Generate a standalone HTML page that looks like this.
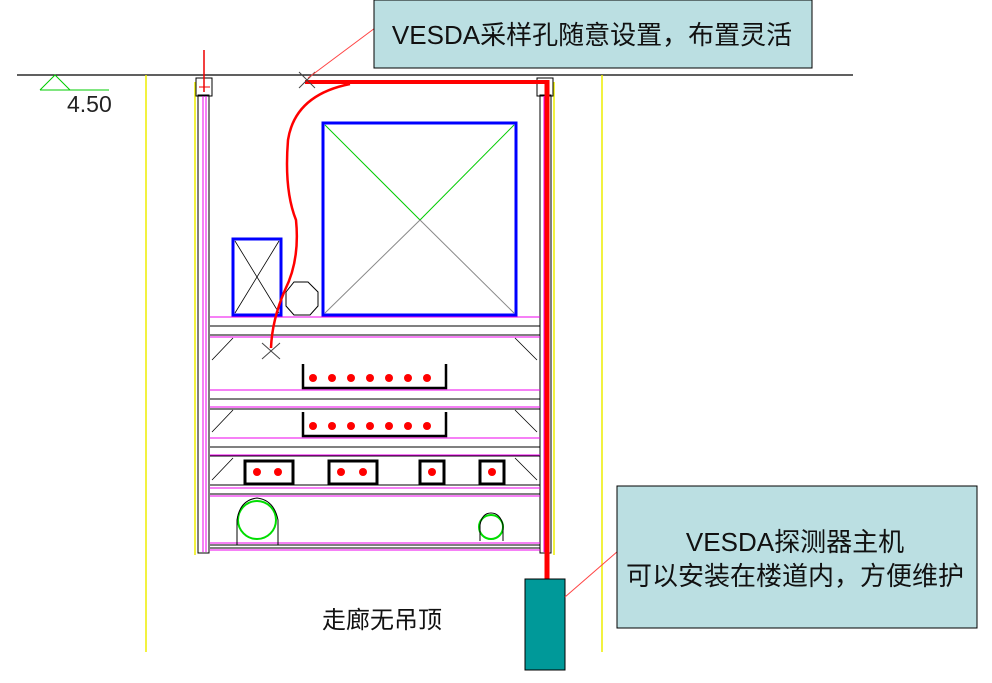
<!DOCTYPE html>
<html><head><meta charset="utf-8"><style>
html,body{margin:0;padding:0;background:#fff;width:992px;height:683px;overflow:hidden}
svg{display:block}
text{font-family:"Liberation Sans","Noto Sans CJK SC",sans-serif}
</style></head><body>
<svg width="992" height="683" viewBox="0 0 992 683" xmlns="http://www.w3.org/2000/svg">
<!-- ground -->
<line x1="17" y1="75" x2="853" y2="75" stroke="#000" stroke-width="1.2"/>
<polyline points="40,90 55,75 70,90" fill="none" stroke="#0c0" stroke-width="1"/>
<line x1="40" y1="90" x2="109" y2="90" stroke="#0c0" stroke-width="1"/>
<text x="67" y="112" font-size="23" fill="#222" font-weight="300">4.50</text>
<!-- yellow lines -->
<g stroke="#ee0" stroke-width="1.5">
<line x1="146" y1="75" x2="146" y2="652"/>
<line x1="195" y1="82" x2="195" y2="555"/>
<line x1="554" y1="82" x2="554" y2="555"/>
<line x1="602" y1="75" x2="602" y2="652"/>
</g>
<!-- rails -->
<g fill="none" stroke="#000" stroke-width="1">
<rect x="198" y="95" width="11" height="458"/>
<rect x="540" y="95" width="11" height="458"/>
<rect x="196" y="78" width="16" height="18"/>
<rect x="537" y="78" width="16" height="18"/>
</g>
<g stroke="#e0e" stroke-width="1">
<line x1="203" y1="96" x2="203" y2="552"/><line x1="206" y1="96" x2="206" y2="552"/>
<line x1="544" y1="96" x2="544" y2="552"/>
</g>
<line x1="204" y1="50" x2="204" y2="92" stroke="#e00" stroke-width="1.5"/>
<line x1="199" y1="87" x2="210" y2="87" stroke="#e00"/>
<!-- shelves -->
<g stroke="#000" stroke-width="1">
<line x1="210" y1="326" x2="540" y2="326"/><line x1="210" y1="335" x2="540" y2="335"/>
<line x1="210" y1="399" x2="540" y2="399"/><line x1="210" y1="409" x2="540" y2="409"/>
<line x1="210" y1="447" x2="540" y2="447"/><line x1="210" y1="456" x2="540" y2="456"/>
<line x1="210" y1="485" x2="540" y2="485"/><line x1="210" y1="494" x2="540" y2="494"/>
<line x1="210" y1="545" x2="540" y2="545"/><line x1="210" y1="548" x2="540" y2="548"/>
</g>
<g stroke="#e0e" stroke-width="1">
<line x1="210" y1="317" x2="540" y2="317"/><line x1="210" y1="337" x2="540" y2="337"/>
<line x1="210" y1="390" x2="540" y2="390"/><line x1="210" y1="407" x2="540" y2="407"/>
<line x1="210" y1="438" x2="540" y2="438"/><line x1="210" y1="455" x2="540" y2="455"/>
<line x1="210" y1="488" x2="540" y2="488"/><line x1="210" y1="496" x2="540" y2="496"/>
<line x1="210" y1="543" x2="540" y2="543"/><line x1="210" y1="550" x2="540" y2="550"/>
</g>
<g stroke="#000" stroke-width="0.8">
<line x1="233" y1="338" x2="212" y2="360"/><line x1="515" y1="338" x2="537" y2="360"/>
<line x1="233" y1="410" x2="212" y2="432"/><line x1="515" y1="410" x2="537" y2="432"/>
<line x1="233" y1="458" x2="212" y2="480"/><line x1="515" y1="458" x2="537" y2="480"/>
</g>
<!-- equipment -->
<rect x="323" y="123" width="193" height="192" fill="none" stroke="#00f" stroke-width="3"/>
<line x1="325" y1="125" x2="420" y2="220" stroke="#0c0"/><line x1="514" y1="125" x2="420" y2="220" stroke="#0c0"/>
<line x1="420" y1="220" x2="325" y2="313" stroke="#888"/><line x1="420" y1="220" x2="514" y2="313" stroke="#888"/>
<rect x="233" y="239" width="48" height="76" fill="none" stroke="#00f" stroke-width="3"/>
<line x1="235" y1="241" x2="279" y2="313" stroke="#000" stroke-width="0.8"/><line x1="279" y1="241" x2="235" y2="313" stroke="#000" stroke-width="0.8"/>
<polygon points="294,282 308,282 318,292 318,306 310,315 294,315 286,306 286,292" fill="none" stroke="#000"/>
<!-- trays -->
<polyline points="303,364 303,388 446,388 446,364" fill="none" stroke="#000" stroke-width="2.5"/>
<polyline points="303,412 303,436 446,436 446,412" fill="none" stroke="#000" stroke-width="2.5"/>
<g fill="#f00">
<circle cx="313" cy="378" r="4"/><circle cx="332" cy="378" r="4"/><circle cx="351" cy="378" r="4"/><circle cx="370" cy="378" r="4"/><circle cx="389" cy="378" r="4"/><circle cx="408" cy="378" r="4"/><circle cx="427" cy="378" r="4"/>
<circle cx="313" cy="426" r="4"/><circle cx="332" cy="426" r="4"/><circle cx="351" cy="426" r="4"/><circle cx="370" cy="426" r="4"/><circle cx="389" cy="426" r="4"/><circle cx="408" cy="426" r="4"/><circle cx="427" cy="426" r="4"/>
<circle cx="257" cy="472" r="4"/><circle cx="278" cy="472" r="4"/><circle cx="341" cy="472" r="4"/><circle cx="363" cy="472" r="4"/><circle cx="432" cy="472" r="4"/><circle cx="492" cy="472" r="4"/>
</g>
<g fill="none" stroke="#000" stroke-width="3">
<rect x="245" y="461" width="48" height="23"/><rect x="329" y="461" width="48" height="23"/>
<rect x="420" y="461" width="24" height="23"/><rect x="480" y="461" width="24" height="23"/>
</g>
<circle cx="257" cy="520" r="19" fill="none" stroke="#0d0" stroke-width="2"/>
<path d="M237,545 V520 Q240,500 257,498 Q274,500 278,520 V545" fill="none" stroke="#000"/>
<circle cx="491" cy="527" r="12" fill="none" stroke="#0d0" stroke-width="2"/>
<path d="M480,541 V525 Q482,513 491,513 Q500,513 503,525 V541" fill="none" stroke="#000"/>
<!-- red pipe -->
<line x1="305" y1="82" x2="547" y2="82" stroke="#f00" stroke-width="4"/>
<line x1="547" y1="80" x2="547" y2="580" stroke="#f00" stroke-width="5"/>
<path d="M350,84 Q295,95 288,140 Q284,190 296,220 Q300,260 285,290 Q272,320 271,348" fill="none" stroke="#f00" stroke-width="2.5"/>
<g stroke="#444" stroke-width="1">
<line x1="299" y1="72" x2="315" y2="88"/><line x1="315" y1="72" x2="299" y2="88"/>
<line x1="262" y1="343" x2="280" y2="359"/><line x1="280" y1="343" x2="262" y2="359"/>
</g>
<!-- host -->
<rect x="525" y="579" width="40" height="91" fill="#009999" stroke="#000"/>
<!-- leaders -->
<line x1="308" y1="78" x2="375" y2="28" stroke="#f44" stroke-width="1"/>
<line x1="565" y1="597" x2="618" y2="551" stroke="#f44" stroke-width="1"/>
<!-- labels -->
<rect x="374" y="0" width="438" height="68" fill="#bbdfe2" stroke="#000"/>
<text x="592" y="44" font-size="26" text-anchor="middle" fill="#111">VESDA采样孔随意设置，布置灵活</text>
<rect x="617" y="486" width="360" height="142" fill="#bbdfe2" stroke="#000"/>
<text x="795" y="551" font-size="26" text-anchor="middle" fill="#111">VESDA探测器主机</text>
<text x="795" y="585" font-size="26" text-anchor="middle" fill="#111">可以安装在楼道内，方便维护</text>
<text x="322" y="628" font-size="24" fill="#111">走廊无吊顶</text>
</svg>
</body></html>
